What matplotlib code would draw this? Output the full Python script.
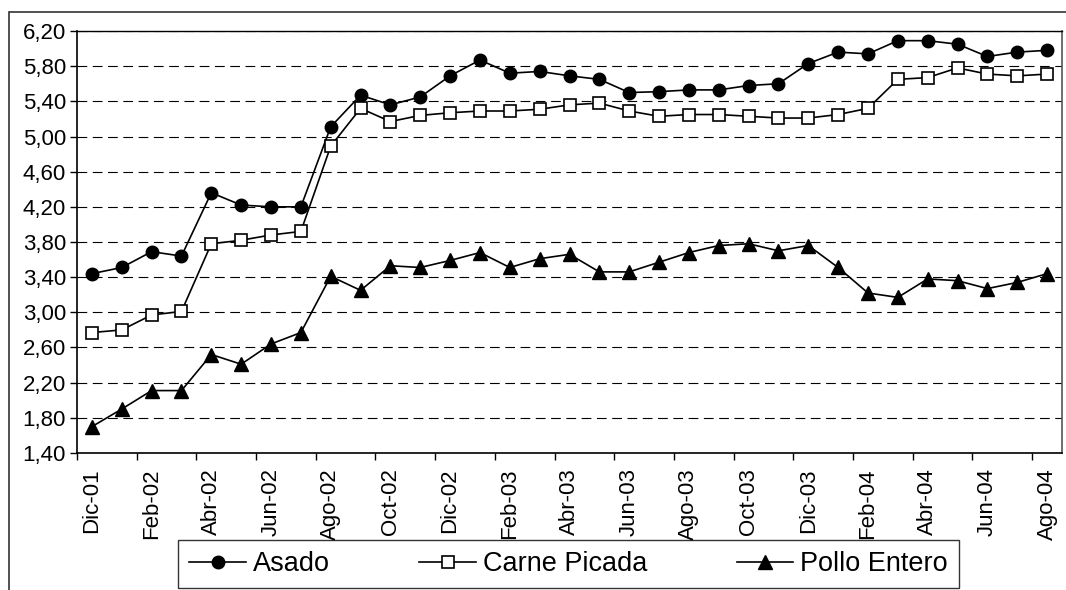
"""
Precios promedio: Asado, Carne Picada y Pollo Entero (Dic-01 a Ago-04).
"""

import numpy as np
import matplotlib
matplotlib.use("Agg")
import matplotlib.pyplot as plt
from matplotlib.patches import Rectangle
from matplotlib.ticker import FixedLocator, FuncFormatter

plt.rcParams["font.family"] = ["Liberation Sans", "DejaVu Sans"]
plt.rcParams["lines.scale_dashes"] = False

# monthly, Dic-01 .. Ago-04 (33 months)
months = ["Dic-01", "Ene-02", "Feb-02", "Mar-02", "Abr-02", "May-02", "Jun-02",
          "Jul-02", "Ago-02", "Sep-02", "Oct-02", "Nov-02", "Dic-02", "Ene-03",
          "Feb-03", "Mar-03", "Abr-03", "May-03", "Jun-03", "Jul-03", "Ago-03",
          "Sep-03", "Oct-03", "Nov-03", "Dic-03", "Ene-04", "Feb-04", "Mar-04",
          "Abr-04", "May-04", "Jun-04", "Jul-04", "Ago-04"]

asado = [3.44, 3.51, 3.69, 3.64, 4.36, 4.22, 4.20, 4.20, 5.11, 5.47, 5.36,
         5.45, 5.69, 5.87, 5.72, 5.74, 5.69, 5.65, 5.50, 5.51, 5.53, 5.53,
         5.58, 5.60, 5.83, 5.96, 5.94, 6.09, 6.09, 6.05, 5.91, 5.96, 5.98]

carne_picada = [2.77, 2.80, 2.97, 3.01, 3.78, 3.82, 3.88, 3.92, 4.89, 5.32, 5.17,
                5.24, 5.27, 5.29, 5.29, 5.31, 5.36, 5.38, 5.29, 5.23, 5.25, 5.25,
                5.23, 5.21, 5.21, 5.25, 5.32, 5.65, 5.67, 5.78, 5.71, 5.69, 5.71]

pollo_entero = [1.70, 1.90, 2.11, 2.11, 2.52, 2.41, 2.64, 2.77, 3.41, 3.25, 3.53,
                3.51, 3.59, 3.68, 3.51, 3.61, 3.66, 3.46, 3.46, 3.57, 3.68, 3.76,
                3.78, 3.70, 3.76, 3.51, 3.22, 3.17, 3.38, 3.36, 3.27, 3.34, 3.44]

y_ticks = [1.40, 1.80, 2.20, 2.60, 3.00, 3.40, 3.80, 4.20, 4.60, 5.00, 5.40, 5.80, 6.20]

fig = plt.figure(figsize=(10.66, 5.90), dpi=100)
ax = fig.add_axes([77 / 1066, 1 - 453 / 590, (1062 - 77) / 1066, (453 - 31) / 590])

x = np.arange(len(months))
ax.plot(x, asado, color="black", lw=1.2, marker="o", ms=9,
        mfc="black", mec="black", label="Asado", zorder=3)
ax.plot(x, carne_picada, color="black", lw=1.2, marker="s", ms=8.5,
        mfc="white", mec="black", mew=1.2, label="Carne Picada", zorder=3)
ax.plot(x, pollo_entero, color="black", lw=1.2, marker="^", ms=10,
        mfc="black", mec="black", label="Pollo Entero", zorder=3)

ax.set_xlim(-0.5, len(months) - 0.5)
ax.set_ylim(1.40, 6.20)

# y axis
ax.yaxis.set_major_locator(FixedLocator(y_ticks))
ax.yaxis.set_major_formatter(FuncFormatter(lambda v, p: f"{v:.2f}".replace(".", ",")))
ax.tick_params(axis="y", direction="out", length=5, width=1, labelsize=16, pad=3)
ax.grid(axis="y", color="black", lw=0.8, linestyle=(0, (7, 4)))

# x axis: tick marks between categories, labels every 2 months
ax.set_xticks(np.arange(-0.5, len(months) - 1, 2))
ax.set_xticklabels([])
ax.set_xticks(x[::2], minor=True)
ax.set_xticklabels(months[::2], minor=True, rotation=90, fontsize=16)
ax.tick_params(axis="x", which="major", direction="out", length=5, width=1)
ax.tick_params(axis="x", which="minor", length=0, pad=11)

for s in ax.spines.values():
    s.set_color("black")
    s.set_linewidth(1.2)
ax.spines["right"].set_color("#555555")
ax.spines["top"].set_linewidth(1.0)

leg = fig.legend(loc="center", bbox_to_anchor=((177 + 960) / 2 / 1066, 1 - 564 / 590),
                 ncol=3, fontsize=19.5, frameon=True, fancybox=False,
                 handlelength=2.1, handletextpad=0.25, columnspacing=3.3,
                 borderpad=0.4, borderaxespad=0)
leg.get_frame().set_edgecolor("black")
leg.get_frame().set_linewidth(1.0)

# outer chart-area border (extends past the right and bottom edges)
fig.patches.append(Rectangle((9 / 1066, -0.1), 1.2, 1.1 - 12 / 590,
                             transform=fig.transFigure, fill=False,
                             edgecolor="#333333", lw=1.2))

fig.savefig("out.png", dpi=100)
